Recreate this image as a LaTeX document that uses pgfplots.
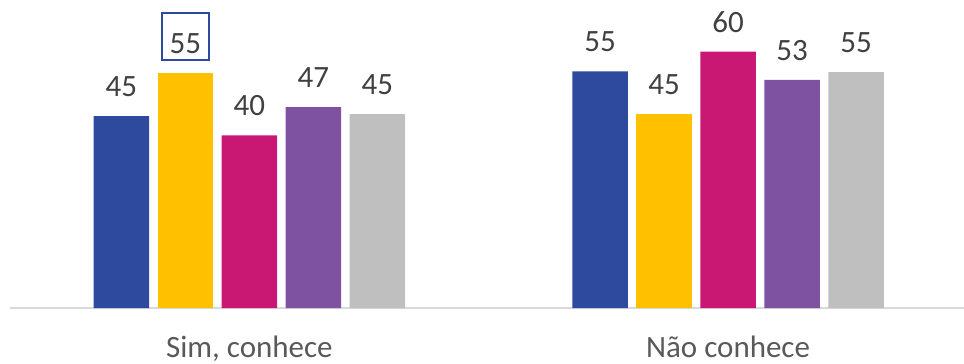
\documentclass[border=0pt]{standalone}
\usepackage{fontspec}
\setmainfont{Carlito}
\usepackage{pgfplots}
\pgfplotsset{compat=1.18}
\definecolor{cblue}{HTML}{2E4A9E}
\definecolor{cyellow}{HTML}{FFC000}
\definecolor{cmag}{HTML}{C91874}
\definecolor{cpurp}{HTML}{7E52A0}
\definecolor{cgrey}{HTML}{BFBFBF}
\definecolor{ctext}{HTML}{404040}
\definecolor{ccat}{HTML}{595959}
\definecolor{cline}{HTML}{D9D9D9}
\begin{document}
\begin{tikzpicture}
\path[use as bounding box] (-10pt,-56pt) rectangle (954pt,308pt);
\begin{axis}[
  at={(0pt,0pt)}, anchor=south west,
  scale only axis,
  width=957.4pt, height=308pt,
  xmin=-0.5, xmax=1.5, ymin=0, ymax=72.1,
  clip=false,
  ybar, bar width=0.1161,
  axis x line=bottom, axis y line=none,
  x axis line style={-, draw=cline, line width=1.5pt},
  xtick={0,1}, xticklabels={{Sim, conhece}, {Não conhece}},
  major tick length=0pt,
  xticklabel style={anchor=base, yshift=-49.5pt, font=\fontsize{31}{36}\selectfont, text=ccat},
  point meta=explicit symbolic,
  nodes near coords={\pgfplotspointmeta},
  every node near coord/.append style={anchor=base, yshift=19.5pt, font=\fontsize{31}{36}\selectfont, text=ctext, inner sep=0pt},
]
\addplot[draw=none, fill=cblue, bar shift=-0.2674] coordinates {(0,44.9)[45] (1,55.4)[55]};
\addplot[draw=none, fill=cyellow, bar shift=-0.1337,
  every node near coord/.append style={draw=cblue, line width=2pt, text height=40.6pt, text depth=6pt, minimum width=46.6pt, inner sep=0pt}]
  coordinates {(0,55.0)[55]};
\addplot[draw=none, fill=cyellow, bar shift=-0.1337] coordinates {(1,45.4)[45]};
\addplot[draw=none, fill=cmag, bar shift=0] coordinates {(0,40.4)[40] (1,60.0)[60]};
\addplot[draw=none, fill=cpurp, bar shift=0.1337] coordinates {(0,47.0)[47] (1,53.4)[53]};
\addplot[draw=none, fill=cgrey, bar shift=0.2674] coordinates {(0,45.4)[45] (1,55.2)[55]};
\end{axis}
\end{tikzpicture}
\end{document}
